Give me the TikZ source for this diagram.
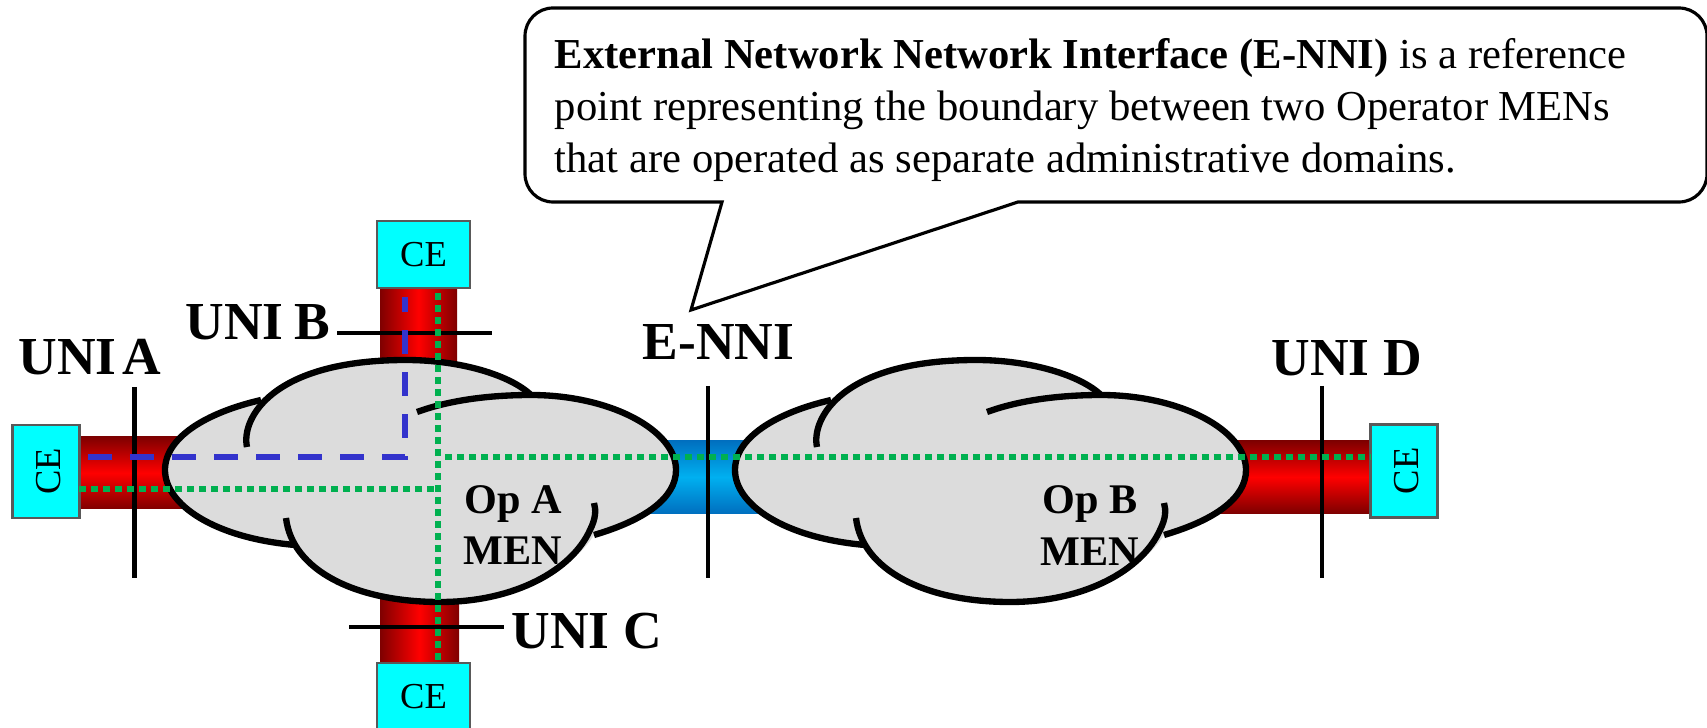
\documentclass[tikz,border=0pt]{standalone}
\usepackage{fontspec}
\setmainfont{Liberation Serif}
\definecolor{cebox}{HTML}{00FFFF}
\definecolor{cloudgray}{HTML}{DCDCDC}
\definecolor{pathgreen}{HTML}{00B050}
\definecolor{pathblue}{HTML}{3333CC}
\definecolor{pipedark}{HTML}{7F0000}
\definecolor{nnidark}{HTML}{0070C0}
\definecolor{nnilight}{HTML}{00B0F0}
\tikzset{
    cenode/.style={draw=black!65,line width=0.6pt,fill=cebox,minimum width=0.93cm,minimum height=0.67cm,inner sep=0pt,font=\fontsize{10.4}{12}\selectfont},
    unilabel/.style={anchor=base west,inner sep=0pt,font=\fontsize{15.2}{17}\selectfont\bfseries},
    oplabel/.style={anchor=base,inner sep=0pt,font=\fontsize{12}{14}\selectfont\bfseries},
    uniline/.style={line width=1.3pt},
    cloudline/.style={line width=1.8pt},
    greenpath/.style={pathgreen,line width=1.7pt,dash pattern=on 0.07cm off 0.05cm},
    bluepath/.style={pathblue,line width=1.7pt,dash pattern=on 0.24cm off 0.18cm},
    redh/.style={top color=pipedark,bottom color=pipedark,middle color=red},
    redv/.style={left color=pipedark,right color=pipedark,middle color=red},
    blueh/.style={top color=nnidark,bottom color=nnidark,middle color=nnilight},
    pics/mencloud/.style={code={
        % fill first, then the lobes
        \fill[cloudgray] (261,400) .. controls (205,413) and (165,438) .. (165,470)
            .. controls (165,505) and (215,538) .. (295,545)
            .. controls (320,585) and (375,602) .. (440,602)
            .. controls (515,602) and (572,570) .. (594,535)
            .. controls (645,520) and (676,498) .. (676,470)
            .. controls (676,430) and (610,395) .. (531,395)
            .. controls (510,375) and (460,360) .. (406,360)
            .. controls (340,360) and (290,372) .. (261,400) -- cycle;
        \draw[cloudline] (261,400) .. controls (205,413) and (165,438) .. (165,470)
            .. controls (165,505) and (215,538) .. (295,545);
        \draw[cloudline] (286,518) .. controls (292,570) and (355,602) .. (440,602)
            .. controls (515,602) and (572,570) .. (590,530) .. controls (596,518) and (596,510) .. (594,503);
        \draw[cloudline] (594,535) .. controls (645,520) and (676,498) .. (676,470)
            .. controls (676,430) and (610,395) .. (531,395) .. controls (490,395) and (450,400) .. (417,412);
        \draw[cloudline] (247,447) .. controls (241,420) and (270,360) .. (406,360)
            .. controls (460,360) and (510,375) .. (531,395);
    }},
}
\begin{document}
\begin{tikzpicture}[x=0.01cm,y=-0.01cm]
    \useasboundingbox (0,0) rectangle (1707,728);

    % Draw the pipes
    \shade[redh] (79,437) rectangle (200,509);
    \shade[redv] (380,288) rectangle (457,370);
    \shade[redv] (380,590) rectangle (459,663);
    \shade[blueh] (650,441) rectangle (770,513);
    \shade[redh] (1210,441) rectangle (1370,513);

    % Draw the CE boxes
    \node[cenode] (ceb) at (423.5,254.5) {CE};
    \node[cenode,rotate=90,text height=0.3cm] (cea) at (46,471.5) {CE};
    \node[cenode] (cec) at (423.5,696.5) {CE};
    \node[cenode,rotate=90,text height=0.3cm] (ced) at (1404,471) {CE};

    % Draw the two clouds
    \pic at (0,0) {mencloud};
    \pic at (570,0) {mencloud};

    % Draw the UNI reference lines
    \coordinate (unia1) at (134.5,387);
    \coordinate (unia2) at (134.5,578);
    \coordinate (unib1) at (337,333);
    \coordinate (unib2) at (492,333);
    \coordinate (unic1) at (349,627);
    \coordinate (unic2) at (504,627);
    \coordinate (enni1) at (708,386);
    \coordinate (enni2) at (708,578);
    \coordinate (unid1) at (1322,386);
    \coordinate (unid2) at (1322,578);
    \draw[uniline] (unia1) -- (unia2);
    \draw[uniline] (unib1) -- (unib2);
    \draw[uniline] (unic1) -- (unic2);
    \draw[uniline] (enni1) -- (enni2);
    \draw[uniline] (unid1) -- (unid2);

    % Draw the paths across the network
    \coordinate (bluea) at (88,457);
    \coordinate (bluecorner) at (405,457);
    \coordinate (blueb) at (405,297);
    \draw[bluepath] (bluea) -- (bluecorner) -- (blueb);
    \coordinate (greena) at (79,489);
    \coordinate (greencross) at (438,489);
    \coordinate (greenb) at (438,293);
    \coordinate (greenc) at (438,660);
    \coordinate (greenm) at (445,457);
    \coordinate (greend) at (1370,457);
    \draw[greenpath] (greena) -- (greencross);
    \draw[greenpath] (greenb) -- (greenc);
    \draw[greenpath] (greenm) -- (greend);

    % Labels
    \node[unilabel] (labela) at (18,375) {UNI\kern-2.2pt{} A};
    \node[unilabel] (labelb) at (185,340) {UNI\kern-0.6pt{} B};
    \node[unilabel] (labelc) at (511,648) {UNI C};
    \node[unilabel] (labele) at (642,360) {E-NNI};
    \node[unilabel] (labeld) at (1271,376) {UNI D};
    \node[oplabel] (opa) at (513,514) {Op A};
    \node[oplabel] (mena) at (513,564) {MEN};
    \node[oplabel] (opb) at (1090,514) {Op B};
    \node[oplabel] (menb) at (1090,565) {MEN};

    % Draw the callout
    \coordinate (tip) at (691,310);
    \draw[line width=0.9pt,fill=white] (722,202) [rounded corners=0.28cm] -- (525,202) -- (525,8) -- (1707,8) -- (1707,202) -- (1100,202) [sharp corners] -- (1018,202) -- (tip) -- cycle;
    \node[anchor=west,inner sep=0pt,align=left,font=\fontsize{12.13}{14.8}\selectfont] (note) at (554,110) {\textbf{External Network Network Interface (E-NNI)} is a reference\\point representing the boundary between two Operator MENs\\that are operated as separate administrative domains.};
\end{tikzpicture}
\end{document}
